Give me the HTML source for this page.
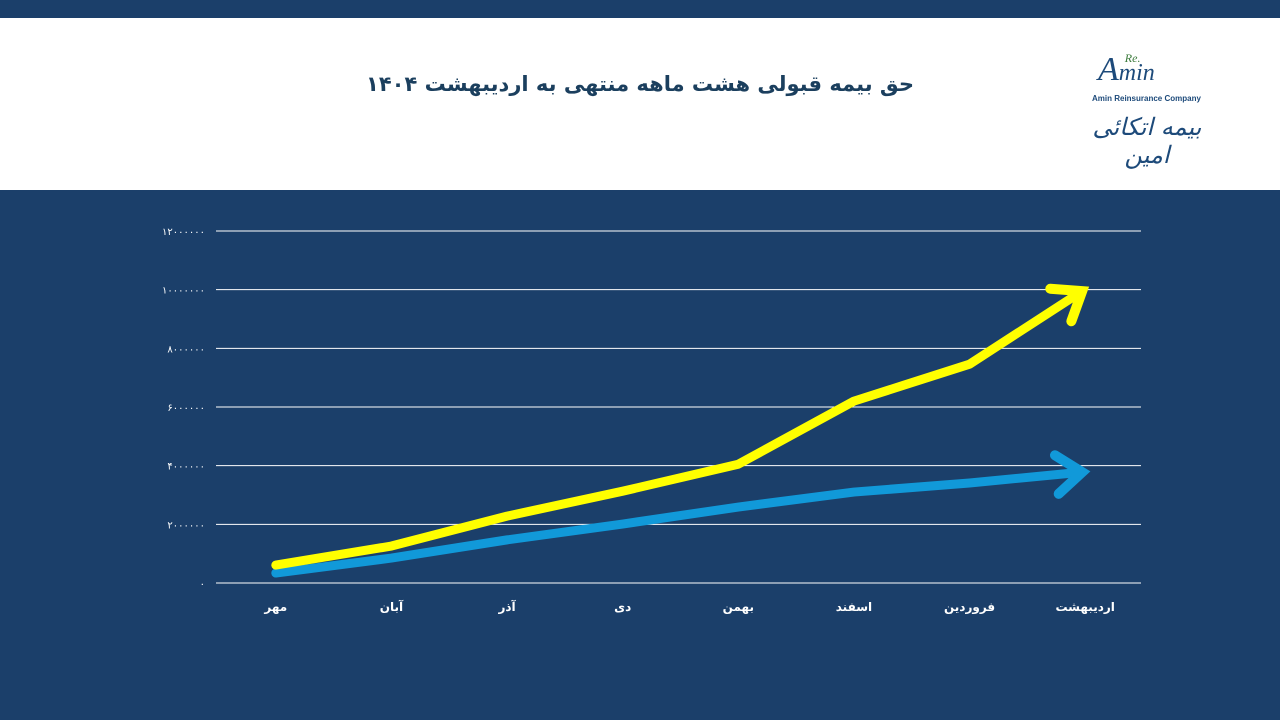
<!DOCTYPE html>
<html><head><meta charset="utf-8"><style>
body{margin:0;width:1280px;height:720px;overflow:hidden;background:#1b3f6a;font-family:"Liberation Sans","DejaVu Sans",sans-serif}
#hdr{position:absolute;left:0;top:18px;width:1280px;height:172px;background:#fff}
#title{position:absolute;left:340px;top:72px;width:600px;text-align:center;font-weight:bold;font-size:21px;color:#1b3f5e;direction:rtl;font-family:"DejaVu Sans",sans-serif}
#logo{position:absolute;left:1092px;top:52px;width:110px;height:120px;color:#1d4a7a}
svg{position:absolute;left:0;top:0}
</style></head><body>
<div id="hdr"></div>
<div id="title">حق بیمه قبولی هشت ماهه منتهی به اردیبهشت ۱۴۰۴</div>
<div id="logo">
<div style="font-family:'Liberation Serif',serif;font-style:italic;font-size:34px;line-height:36px;margin-left:6px">A<span style="font-size:24px">min</span><span style="font-size:12px;color:#3a7a3a;position:relative;top:-18px;left:-30px">Re.</span></div>
<div style="font-size:8px;font-weight:bold;white-space:nowrap">Amin Reinsurance Company</div>
<div style="font-size:24px;direction:rtl;font-family:'DejaVu Serif',serif;font-style:italic;margin-top:10px;text-align:center">بیمه اتکائی امین</div>
</div>
<svg id="chart" width="1280" height="720"></svg>
<script>
const categories=["مهر","آبان","آذر","دی","بهمن","اسفند","فروردین","اردیبهشت"];
const seriesYellow=[61000,126000,228000,313000,405000,620000,746000,995000];
const seriesBlue=[34000,85000,147000,201000,259000,310000,341000,378000];
const yTicks=[0,200000,400000,600000,800000,1000000,1200000];
const yTickLabels=["۰","۲۰۰۰۰۰۰","۴۰۰۰۰۰۰","۶۰۰۰۰۰۰","۸۰۰۰۰۰۰","۱۰۰۰۰۰۰۰","۱۲۰۰۰۰۰۰"];
const NS="http://www.w3.org/2000/svg";
const svg=document.getElementById('chart');
const x0=216,x1=1141,y0=583,y1=231,yMax=1200000;
const bw=(x1-x0)/categories.length;
const xs=i=>x0+bw*(i+0.5)+2;
const ys=v=>y0-(v/yMax)*(y0-y1);
function mk(t,a){const e=document.createElementNS(NS,t);for(const k in a)e.setAttribute(k,a[k]);svg.appendChild(e);return e;}
yTicks.forEach((v,i)=>{
 const l=mk('line',{x1:x0,x2:x1,y1:ys(v),y2:ys(v),stroke:'#fff','stroke-width':1});
 
 
 const t=mk('text',{x:205,y:ys(v)+4,'text-anchor':'end',fill:'#fff','font-size':10,'font-family':'DejaVu Sans,sans-serif'});
 t.textContent=yTickLabels[i];
 
 
});
categories.forEach((c,i)=>{
 const t=mk('text',{x:xs(i),y:611,'text-anchor':'middle',fill:'#fff','font-size':12,'font-weight':'bold','font-family':'DejaVu Sans,sans-serif'});
 t.textContent=c;
 
 
});
function series(vals,color,name){
 const pts=vals.map((v,i)=>[xs(i)-(i==vals.length-1?3:0),ys(v)]);
 const p=mk('polyline',{points:pts.map(p=>p.join(',')).join(' '),fill:'none',stroke:color,'stroke-width':9,'stroke-linejoin':'round','stroke-linecap':'round'});
 
 
 const [ax,ay]=pts[pts.length-1],[bx,by]=pts[pts.length-2];
 const ang=Math.atan2(ay-by,ax-bx),L=32,s=0.65;
 const h=mk('polyline',{points:`${ax-L*Math.cos(ang-s)},${ay-L*Math.sin(ang-s)} ${ax},${ay} ${ax-L*Math.cos(ang+s)},${ay-L*Math.sin(ang+s)}`,fill:'none',stroke:color,'stroke-width':10,'stroke-linejoin':'miter','stroke-linecap':'round'});
 
 
}
series(seriesBlue,'#1199d9','blue-series');
series(seriesYellow,'#ffff00','yellow-series');
</script>
</body></html>
